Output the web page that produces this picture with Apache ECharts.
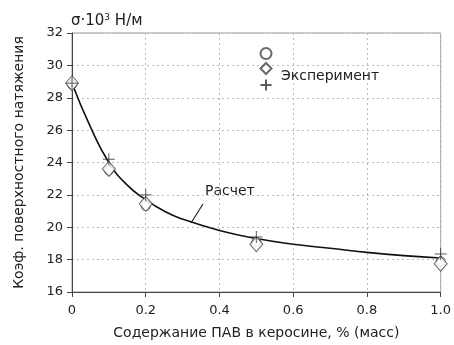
<!DOCTYPE html>
<html><head><meta charset="utf-8">
<script src="https://cdn.jsdelivr.net/npm/echarts@6/dist/echarts.min.js"></script>
<style>html,body{margin:0;padding:0;background:#fff}#c{width:454px;height:345px}</style>
</head><body><div id="c"></div>
<script>
// Calculated curve
var calcX = [0, 0.05, 0.1, 0.15, 0.2, 0.25, 0.3, 0.4, 0.5, 0.6, 0.7, 0.8, 0.9, 1.0];
var calcY = [28.9, 26.2, 24.0, 22.6, 21.7, 21.0, 20.5, 19.8, 19.3, 18.95, 18.7, 18.45, 18.25, 18.1];
// Experimental points
var expX = [0, 0.1, 0.2, 0.5, 1.0];
var expCircle = [28.8, 23.5, 21.3, 19.1, 17.9];
var expDiamond = [28.9, 23.6, 21.45, 18.95, 17.75];
var expPlus = [28.9, 24.2, 22.0, 19.4, 18.35];
var xTicks = ['0', '0.2', '0.4', '0.6', '0.8', '1.0'];

function pairs(xs, ys) { return xs.map(function (x, i) { return [x, ys[i]]; }); }

var FONT = 'DejaVu Sans';
var chart = echarts.init(document.getElementById('c'));
var plusPath = 'path://M0,5L10,5M5,0L5,10';

chart.setOption({
  animation: false,
  textStyle: { fontFamily: FONT },
  title: {
    left: 66, top: 8,
    text: '{a|σ·10}{s|3}{a| Н/м}',
    textStyle: {
      fontWeight: 'normal',
      rich: {
        a: { fontFamily: FONT, fontSize: 15, fontWeight: 'normal', color: '#222' },
        s: { fontFamily: FONT, fontSize: 9, fontWeight: 'normal', color: '#222', verticalAlign: 'top', padding: [0, 0, 8, 0] }
      }
    }
  },
  grid: { left: 72, right: 9, top: 33, bottom: 51, show: true, borderColor: '#999', borderWidth: 1 },
  legend: {
    orient: 'vertical', left: 258, top: 47, padding: 0,
    itemWidth: 11, itemHeight: 11, itemGap: 2,
    data: ['e1', 'e2', 'e3'],
    formatter: function () { return ''; },
    textStyle: { fontSize: 1, lineHeight: 1 }
  },
  xAxis: {
    type: 'value', min: 0, max: 1, interval: 0.2,
    name: 'Содержание ПАВ в керосине, % (масс)', nameLocation: 'middle', nameGap: 34,
    nameTextStyle: { fontFamily: FONT, fontSize: 14, color: '#222' },
    axisLine: { show: true, lineStyle: { color: '#444', width: 1 } },
    axisTick: { show: true, length: 5, lineStyle: { color: '#444' } },
    axisLabel: { margin: 12, fontFamily: FONT, fontSize: 13, color: '#222',
      formatter: function (v) { return xTicks[Math.round(v / 0.2)]; } },
    splitLine: { show: true, lineStyle: { color: '#bbb', type: [2, 3], width: 1 } }
  },
  yAxis: {
    type: 'value', min: 16, max: 32, interval: 2,
    name: 'Коэф. поверхностного натяжения', nameLocation: 'middle', nameGap: 46,
    nameTextStyle: { fontFamily: FONT, fontSize: 14, color: '#222' },
    axisLine: { show: true, lineStyle: { color: '#444', width: 1 } },
    axisTick: { show: true, length: 5, lineStyle: { color: '#444' } },
    axisLabel: { margin: 9, fontFamily: FONT, fontSize: 13, color: '#222' },
    splitLine: { show: true, lineStyle: { color: '#bbb', type: [2, 3], width: 1 } }
  },
  graphic: [
    { type: 'text', left: 281, top: 69, style: { text: 'Эксперимент', fontFamily: FONT, fontSize: 14, fill: '#222' } },
    { type: 'text', left: 205, top: 184, style: { text: 'Расчет', fontFamily: FONT, fontSize: 14, fill: '#222' } },
    { type: 'line', shape: { x1: 203, y1: 204, x2: 191, y2: 223 }, style: { stroke: '#222', lineWidth: 1.2 } }
  ],
  series: [
    { name: 'calc', type: 'line', smooth: 0.5, showSymbol: false, data: pairs(calcX, calcY),
      lineStyle: { color: '#111', width: 1.6 }, z: 2 },
    { name: 'e1', type: 'scatter', symbol: 'circle', symbolSize: 9, data: pairs(expX, expCircle),
      itemStyle: { color: '#fff', borderColor: '#444', borderWidth: 1 }, z: 3 },
    { name: 'e2', type: 'scatter', symbol: 'diamond', symbolSize: [13, 15], data: pairs(expX, expDiamond),
      itemStyle: { color: '#fff', borderColor: '#444', borderWidth: 1 }, z: 4 },
    { name: 'e3', type: 'scatter', symbol: plusPath, symbolSize: 12, data: pairs(expX, expPlus),
      itemStyle: { color: 'none', borderColor: '#333', borderWidth: 1 }, z: 5 }
  ]
});
</script></body></html>
